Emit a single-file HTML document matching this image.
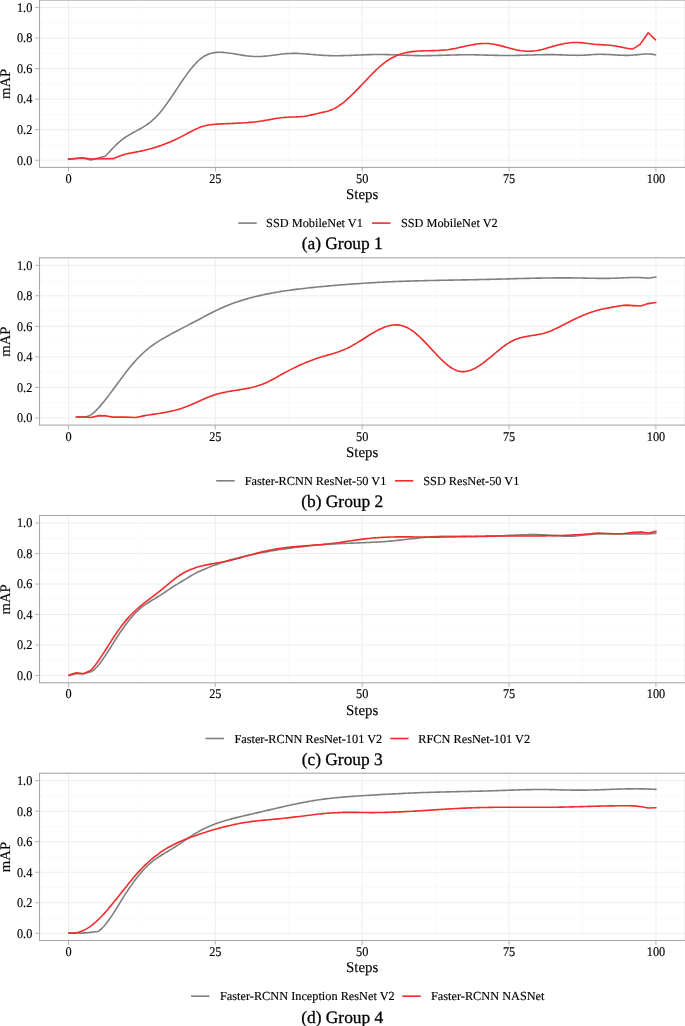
<!DOCTYPE html><html><head><meta charset="utf-8"><style>html,body{margin:0;padding:0;background:#fff;width:685px;height:1026px;overflow:hidden}svg{display:block;will-change:transform}text{font-family:"Liberation Serif",serif;text-rendering:geometricPrecision;fill:#000;stroke:#000;stroke-width:0.15px}</style></head><body>
<svg width="685" height="1026" viewBox="0 0 685 1026">
<line x1="39.5" x2="685.4" y1="144.94" y2="144.94" stroke="#f6f6f6" stroke-width="0.6"/>
<line x1="39.5" x2="685.4" y1="114.42" y2="114.42" stroke="#f6f6f6" stroke-width="0.6"/>
<line x1="39.5" x2="685.4" y1="83.90" y2="83.90" stroke="#f6f6f6" stroke-width="0.6"/>
<line x1="39.5" x2="685.4" y1="53.38" y2="53.38" stroke="#f6f6f6" stroke-width="0.6"/>
<line x1="39.5" x2="685.4" y1="22.86" y2="22.86" stroke="#f6f6f6" stroke-width="0.6"/>
<line x1="141.90" x2="141.90" y1="0.1" y2="167.4" stroke="#f6f6f6" stroke-width="0.6"/>
<line x1="288.77" x2="288.77" y1="0.1" y2="167.4" stroke="#f6f6f6" stroke-width="0.6"/>
<line x1="435.64" x2="435.64" y1="0.1" y2="167.4" stroke="#f6f6f6" stroke-width="0.6"/>
<line x1="582.51" x2="582.51" y1="0.1" y2="167.4" stroke="#f6f6f6" stroke-width="0.6"/>
<line x1="39.5" x2="685.4" y1="160.20" y2="160.20" stroke="#eeeeee" stroke-width="1"/>
<line x1="35.1" x2="39.5" y1="160.20" y2="160.20" stroke="#b3b3b3" stroke-width="1"/>
<text transform="translate(32.30,164.50) scale(1,1.08)" font-size="12.3" text-anchor="end">0.0</text>
<line x1="39.5" x2="685.4" y1="129.68" y2="129.68" stroke="#eeeeee" stroke-width="1"/>
<line x1="35.1" x2="39.5" y1="129.68" y2="129.68" stroke="#b3b3b3" stroke-width="1"/>
<text transform="translate(32.30,133.98) scale(1,1.08)" font-size="12.3" text-anchor="end">0.2</text>
<line x1="39.5" x2="685.4" y1="99.16" y2="99.16" stroke="#eeeeee" stroke-width="1"/>
<line x1="35.1" x2="39.5" y1="99.16" y2="99.16" stroke="#b3b3b3" stroke-width="1"/>
<text transform="translate(32.30,103.46) scale(1,1.08)" font-size="12.3" text-anchor="end">0.4</text>
<line x1="39.5" x2="685.4" y1="68.64" y2="68.64" stroke="#eeeeee" stroke-width="1"/>
<line x1="35.1" x2="39.5" y1="68.64" y2="68.64" stroke="#b3b3b3" stroke-width="1"/>
<text transform="translate(32.30,72.94) scale(1,1.08)" font-size="12.3" text-anchor="end">0.6</text>
<line x1="39.5" x2="685.4" y1="38.12" y2="38.12" stroke="#eeeeee" stroke-width="1"/>
<line x1="35.1" x2="39.5" y1="38.12" y2="38.12" stroke="#b3b3b3" stroke-width="1"/>
<text transform="translate(32.30,42.42) scale(1,1.08)" font-size="12.3" text-anchor="end">0.8</text>
<line x1="39.5" x2="685.4" y1="7.60" y2="7.60" stroke="#eeeeee" stroke-width="1"/>
<line x1="35.1" x2="39.5" y1="7.60" y2="7.60" stroke="#b3b3b3" stroke-width="1"/>
<text transform="translate(32.30,11.90) scale(1,1.08)" font-size="12.3" text-anchor="end">1.0</text>
<line x1="68.47" x2="68.47" y1="0.1" y2="167.4" stroke="#eeeeee" stroke-width="1"/>
<line x1="68.47" x2="68.47" y1="167.4" y2="171.70" stroke="#b3b3b3" stroke-width="1"/>
<text transform="translate(68.47,183.00) scale(1,1.08)" font-size="12.3" text-anchor="middle">0</text>
<line x1="215.34" x2="215.34" y1="0.1" y2="167.4" stroke="#eeeeee" stroke-width="1"/>
<line x1="215.34" x2="215.34" y1="167.4" y2="171.70" stroke="#b3b3b3" stroke-width="1"/>
<text transform="translate(215.34,183.00) scale(1,1.08)" font-size="12.3" text-anchor="middle">25</text>
<line x1="362.21" x2="362.21" y1="0.1" y2="167.4" stroke="#eeeeee" stroke-width="1"/>
<line x1="362.21" x2="362.21" y1="167.4" y2="171.70" stroke="#b3b3b3" stroke-width="1"/>
<text transform="translate(362.21,183.00) scale(1,1.08)" font-size="12.3" text-anchor="middle">50</text>
<line x1="509.08" x2="509.08" y1="0.1" y2="167.4" stroke="#eeeeee" stroke-width="1"/>
<line x1="509.08" x2="509.08" y1="167.4" y2="171.70" stroke="#b3b3b3" stroke-width="1"/>
<text transform="translate(509.08,183.00) scale(1,1.08)" font-size="12.3" text-anchor="middle">75</text>
<line x1="655.95" x2="655.95" y1="0.1" y2="167.4" stroke="#eeeeee" stroke-width="1"/>
<line x1="655.95" x2="655.95" y1="167.4" y2="171.70" stroke="#b3b3b3" stroke-width="1"/>
<text transform="translate(655.95,183.00) scale(1,1.08)" font-size="12.3" text-anchor="middle">100</text>
<polyline points="68.47,159.13 82.57,158.22 91.09,159.89 105.19,156.23 107.14,154.23 109.09,152.18 111.04,150.11 112.99,148.06 114.95,146.06 116.90,144.14 118.85,142.33 120.80,140.66 122.75,139.14 124.70,137.73 126.66,136.44 128.61,135.23 130.56,134.08 132.51,132.99 134.46,131.92 136.41,130.86 138.36,129.79 140.32,128.70 142.27,127.57 144.22,126.38 146.17,125.11 148.12,123.75 150.07,122.28 152.03,120.69 153.98,118.96 155.93,117.07 157.88,115.01 159.83,112.78 161.78,110.40 163.74,107.89 165.69,105.26 167.64,102.54 169.59,99.74 171.54,96.87 173.49,93.97 175.45,91.04 177.40,88.09 179.35,85.16 181.30,82.26 183.25,79.40 185.20,76.60 187.15,73.89 189.11,71.27 191.06,68.77 193.01,66.40 194.96,64.18 196.91,62.13 198.86,60.26 200.82,58.60 202.77,57.16 204.72,55.94 206.67,54.93 208.62,54.11 210.57,53.46 212.53,52.98 214.48,52.63 216.43,52.42 218.38,52.32 220.33,52.31 222.28,52.39 224.24,52.53 226.19,52.72 228.14,52.95 230.09,53.21 232.04,53.50 233.99,53.81 235.94,54.13 237.90,54.45 239.85,54.77 241.80,55.09 243.75,55.39 245.70,55.67 247.65,55.93 249.61,56.15 251.56,56.32 253.51,56.45 255.46,56.53 257.41,56.55 259.36,56.51 261.32,56.43 263.27,56.30 265.22,56.14 267.17,55.94 269.12,55.72 271.07,55.48 273.03,55.24 274.98,54.98 276.93,54.72 278.88,54.47 280.83,54.24 282.78,54.02 284.73,53.82 286.69,53.66 288.64,53.53 290.59,53.44 292.54,53.40 294.49,53.39 296.44,53.42 298.40,53.48 300.35,53.57 302.30,53.68 304.25,53.80 306.20,53.95 308.15,54.11 310.11,54.27 312.06,54.45 314.01,54.62 315.96,54.79 317.91,54.95 319.86,55.11 321.82,55.25 323.77,55.37 325.72,55.48 327.67,55.56 329.62,55.62 331.57,55.67 333.52,55.69 335.48,55.70 337.43,55.70 339.38,55.68 341.33,55.65 343.28,55.61 345.23,55.55 347.19,55.49 349.14,55.43 351.09,55.36 353.04,55.28 354.99,55.20 356.94,55.12 358.90,55.04 360.85,54.96 362.80,54.88 364.75,54.80 366.70,54.74 368.65,54.67 370.61,54.62 372.56,54.57 374.51,54.54 376.46,54.51 378.41,54.50 380.36,54.50 382.31,54.52 384.27,54.55 386.22,54.59 388.17,54.63 390.12,54.69 392.07,54.75 394.02,54.82 395.98,54.89 397.93,54.97 399.88,55.04 401.83,55.12 403.78,55.20 405.73,55.27 407.69,55.35 409.64,55.42 411.59,55.48 413.54,55.54 415.49,55.59 417.44,55.63 419.40,55.66 421.35,55.68 423.30,55.68 425.25,55.68 427.20,55.66 429.15,55.64 431.10,55.61 433.06,55.57 435.01,55.52 436.96,55.47 438.91,55.42 440.86,55.36 442.81,55.30 444.77,55.23 446.72,55.17 448.67,55.11 450.62,55.05 452.57,54.99 454.52,54.94 456.48,54.89 458.43,54.85 460.38,54.81 462.33,54.78 464.28,54.76 466.23,54.75 468.19,54.75 470.14,54.76 472.09,54.78 474.04,54.81 475.99,54.84 477.94,54.88 479.89,54.93 481.85,54.98 483.80,55.03 485.75,55.08 487.70,55.14 489.65,55.20 491.60,55.25 493.56,55.30 495.51,55.35 497.46,55.39 499.41,55.43 501.36,55.47 503.31,55.49 505.27,55.51 507.22,55.52 509.17,55.51 511.12,55.50 513.07,55.47 515.02,55.44 516.98,55.40 518.93,55.35 520.88,55.30 522.83,55.24 524.78,55.18 526.73,55.12 528.68,55.05 530.64,54.99 532.59,54.93 534.54,54.87 536.49,54.81 538.44,54.76 540.39,54.72 542.35,54.68 544.30,54.65 546.25,54.63 548.20,54.62 550.15,54.62 552.10,54.64 554.06,54.67 556.01,54.71 557.96,54.77 559.91,54.84 561.86,54.91 563.81,54.99 565.77,55.06 567.72,55.13 569.67,55.20 571.62,55.25 573.57,55.30 575.52,55.32 577.47,55.33 579.43,55.31 581.38,55.27 583.33,55.20 585.28,55.10 587.23,54.98 589.18,54.84 591.14,54.70 593.09,54.57 595.04,54.45 596.99,54.36 598.94,54.31 600.89,54.30 602.85,54.33 604.80,54.38 606.75,54.46 608.70,54.55 610.65,54.67 612.60,54.78 614.56,54.90 616.51,55.02 618.46,55.13 620.41,55.23 622.36,55.30 624.31,55.35 626.26,55.38 628.22,55.36 630.17,55.31 632.12,55.20 634.07,55.05 636.02,54.86 637.97,54.64 639.93,54.43 641.88,54.23 643.83,54.07 645.78,53.96 647.73,53.93 649.68,53.98 651.64,54.15 653.59,54.46 655.54,54.91" fill="none" stroke="#7f7f7f" stroke-width="1.6" stroke-linejoin="round" stroke-linecap="round"/>
<polyline points="68.47,159.13 82.80,157.76 90.27,158.98 113.47,158.67 115.42,157.73 117.38,156.89 119.33,156.13 121.28,155.46 123.24,154.86 125.19,154.33 127.14,153.84 129.10,153.40 131.05,152.99 133.00,152.60 134.96,152.23 136.91,151.87 138.86,151.50 140.82,151.11 142.77,150.70 144.72,150.26 146.68,149.80 148.63,149.30 150.58,148.77 152.54,148.22 154.49,147.63 156.44,147.02 158.40,146.38 160.35,145.70 162.30,145.00 164.26,144.27 166.21,143.51 168.16,142.73 170.12,141.91 172.07,141.06 174.02,140.19 175.98,139.28 177.93,138.35 179.88,137.39 181.84,136.40 183.79,135.38 185.74,134.33 187.69,133.28 189.65,132.23 191.60,131.21 193.55,130.21 195.51,129.27 197.46,128.38 199.41,127.58 201.37,126.86 203.32,126.24 205.27,125.73 207.23,125.30 209.18,124.96 211.13,124.67 213.09,124.45 215.04,124.28 216.99,124.14 218.95,124.02 220.90,123.92 222.85,123.83 224.81,123.75 226.76,123.66 228.71,123.58 230.67,123.50 232.62,123.42 234.57,123.34 236.53,123.25 238.48,123.15 240.43,123.05 242.39,122.94 244.34,122.82 246.29,122.68 248.25,122.53 250.20,122.37 252.15,122.19 254.11,121.99 256.06,121.77 258.01,121.52 259.97,121.26 261.92,120.97 263.87,120.65 265.83,120.32 267.78,119.97 269.73,119.61 271.69,119.26 273.64,118.91 275.59,118.57 277.54,118.26 279.50,117.97 281.45,117.72 283.40,117.50 285.36,117.33 287.31,117.21 289.26,117.12 291.22,117.05 293.17,116.99 295.12,116.93 297.08,116.86 299.03,116.76 300.98,116.63 302.94,116.44 304.89,116.20 306.84,115.90 308.80,115.53 310.75,115.11 312.70,114.65 314.66,114.18 316.61,113.70 318.56,113.22 320.52,112.77 322.47,112.35 324.42,111.95 326.38,111.51 328.33,111.00 330.28,110.35 332.24,109.55 334.19,108.61 336.14,107.53 338.10,106.32 340.05,105.00 342.00,103.56 343.96,102.02 345.91,100.39 347.86,98.68 349.82,96.89 351.77,95.04 353.72,93.12 355.68,91.16 357.63,89.16 359.58,87.13 361.54,85.07 363.49,83.00 365.44,80.93 367.39,78.86 369.35,76.82 371.30,74.80 373.25,72.82 375.21,70.89 377.16,69.02 379.11,67.22 381.07,65.51 383.02,63.89 384.97,62.37 386.93,60.96 388.88,59.68 390.83,58.51 392.79,57.44 394.74,56.48 396.69,55.62 398.65,54.86 400.60,54.17 402.55,53.57 404.51,53.05 406.46,52.60 408.41,52.21 410.37,51.88 412.32,51.61 414.27,51.38 416.23,51.20 418.18,51.06 420.13,50.95 422.09,50.86 424.04,50.80 425.99,50.76 427.95,50.72 429.90,50.69 431.85,50.66 433.81,50.62 435.76,50.57 437.71,50.51 439.67,50.42 441.62,50.31 443.57,50.16 445.53,49.98 447.48,49.75 449.43,49.47 451.39,49.15 453.34,48.80 455.29,48.42 457.24,48.01 459.20,47.58 461.15,47.15 463.10,46.71 465.06,46.27 467.01,45.84 468.96,45.43 470.92,45.04 472.87,44.68 474.82,44.35 476.78,44.06 478.73,43.82 480.68,43.63 482.64,43.50 484.59,43.44 486.54,43.45 488.50,43.54 490.45,43.71 492.40,43.97 494.36,44.29 496.31,44.68 498.26,45.12 500.22,45.60 502.17,46.11 504.12,46.64 506.08,47.19 508.03,47.73 509.98,48.27 511.94,48.78 513.89,49.27 515.84,49.72 517.80,50.12 519.75,50.47 521.70,50.75 523.66,50.96 525.61,51.11 527.56,51.19 529.52,51.20 531.47,51.14 533.42,51.00 535.38,50.79 537.33,50.49 539.28,50.12 541.24,49.68 543.19,49.18 545.14,48.65 547.09,48.09 549.05,47.52 551.00,46.95 552.95,46.39 554.91,45.85 556.86,45.32 558.81,44.83 560.77,44.36 562.72,43.94 564.67,43.55 566.63,43.22 568.58,42.94 570.53,42.72 572.49,42.56 574.44,42.47 576.39,42.46 578.35,42.53 580.30,42.66 582.25,42.84 584.21,43.06 586.16,43.31 588.11,43.56 590.07,43.82 592.02,44.05 593.97,44.26 595.93,44.43 597.88,44.56 599.83,44.66 601.79,44.75 603.74,44.84 605.69,44.94 607.65,45.06 609.60,45.22 611.55,45.42 613.51,45.68 615.46,45.99 617.41,46.35 619.37,46.74 621.32,47.14 623.27,47.54 625.23,47.93 627.18,48.29 629.13,48.59 631.09,48.83 633.04,48.95 640.03,44.38 648.20,32.78 655.54,39.80" fill="none" stroke="#f22b2b" stroke-width="1.6" stroke-linejoin="round" stroke-linecap="round"/>
<rect x="39.5" y="0.1" width="645.9" height="167.3" fill="none" stroke="#a8a8a8" stroke-width="1.1"/>
<text transform="translate(362.10,199.30) scale(1,1.0)" font-size="14.9" text-anchor="middle">Steps</text>
<text transform="translate(9.75,83.95) rotate(-90) scale(1,1.0)" font-size="14.7" text-anchor="middle">mAP</text>
<line x1="238.3" x2="256.7" y1="223.1" y2="223.1" stroke="#7f7f7f" stroke-width="1.6"/>
<text transform="translate(266.10,227.20) scale(1,1.0)" font-size="12.3">SSD MobileNet V1</text>
<line x1="372.1" x2="390.5" y1="223.1" y2="223.1" stroke="#f22b2b" stroke-width="1.6"/>
<text transform="translate(400.90,227.20) scale(1,1.0)" font-size="12.3">SSD MobileNet V2</text>
<text transform="translate(342.20,249.40) scale(1,1.0)" font-size="17.4" text-anchor="middle" style="stroke-width:0.3px">(a) Group 1</text>
<line x1="39.5" x2="685.4" y1="402.64" y2="402.64" stroke="#f6f6f6" stroke-width="0.6"/>
<line x1="39.5" x2="685.4" y1="372.12" y2="372.12" stroke="#f6f6f6" stroke-width="0.6"/>
<line x1="39.5" x2="685.4" y1="341.60" y2="341.60" stroke="#f6f6f6" stroke-width="0.6"/>
<line x1="39.5" x2="685.4" y1="311.08" y2="311.08" stroke="#f6f6f6" stroke-width="0.6"/>
<line x1="39.5" x2="685.4" y1="280.56" y2="280.56" stroke="#f6f6f6" stroke-width="0.6"/>
<line x1="141.90" x2="141.90" y1="257.8" y2="425.1" stroke="#f6f6f6" stroke-width="0.6"/>
<line x1="288.77" x2="288.77" y1="257.8" y2="425.1" stroke="#f6f6f6" stroke-width="0.6"/>
<line x1="435.64" x2="435.64" y1="257.8" y2="425.1" stroke="#f6f6f6" stroke-width="0.6"/>
<line x1="582.51" x2="582.51" y1="257.8" y2="425.1" stroke="#f6f6f6" stroke-width="0.6"/>
<line x1="39.5" x2="685.4" y1="417.90" y2="417.90" stroke="#eeeeee" stroke-width="1"/>
<line x1="35.1" x2="39.5" y1="417.90" y2="417.90" stroke="#b3b3b3" stroke-width="1"/>
<text transform="translate(32.30,422.20) scale(1,1.08)" font-size="12.3" text-anchor="end">0.0</text>
<line x1="39.5" x2="685.4" y1="387.38" y2="387.38" stroke="#eeeeee" stroke-width="1"/>
<line x1="35.1" x2="39.5" y1="387.38" y2="387.38" stroke="#b3b3b3" stroke-width="1"/>
<text transform="translate(32.30,391.68) scale(1,1.08)" font-size="12.3" text-anchor="end">0.2</text>
<line x1="39.5" x2="685.4" y1="356.86" y2="356.86" stroke="#eeeeee" stroke-width="1"/>
<line x1="35.1" x2="39.5" y1="356.86" y2="356.86" stroke="#b3b3b3" stroke-width="1"/>
<text transform="translate(32.30,361.16) scale(1,1.08)" font-size="12.3" text-anchor="end">0.4</text>
<line x1="39.5" x2="685.4" y1="326.34" y2="326.34" stroke="#eeeeee" stroke-width="1"/>
<line x1="35.1" x2="39.5" y1="326.34" y2="326.34" stroke="#b3b3b3" stroke-width="1"/>
<text transform="translate(32.30,330.64) scale(1,1.08)" font-size="12.3" text-anchor="end">0.6</text>
<line x1="39.5" x2="685.4" y1="295.82" y2="295.82" stroke="#eeeeee" stroke-width="1"/>
<line x1="35.1" x2="39.5" y1="295.82" y2="295.82" stroke="#b3b3b3" stroke-width="1"/>
<text transform="translate(32.30,300.12) scale(1,1.08)" font-size="12.3" text-anchor="end">0.8</text>
<line x1="39.5" x2="685.4" y1="265.30" y2="265.30" stroke="#eeeeee" stroke-width="1"/>
<line x1="35.1" x2="39.5" y1="265.30" y2="265.30" stroke="#b3b3b3" stroke-width="1"/>
<text transform="translate(32.30,269.60) scale(1,1.08)" font-size="12.3" text-anchor="end">1.0</text>
<line x1="68.47" x2="68.47" y1="257.8" y2="425.1" stroke="#eeeeee" stroke-width="1"/>
<line x1="68.47" x2="68.47" y1="425.1" y2="429.40" stroke="#b3b3b3" stroke-width="1"/>
<text transform="translate(68.47,440.70) scale(1,1.08)" font-size="12.3" text-anchor="middle">0</text>
<line x1="215.34" x2="215.34" y1="257.8" y2="425.1" stroke="#eeeeee" stroke-width="1"/>
<line x1="215.34" x2="215.34" y1="425.1" y2="429.40" stroke="#b3b3b3" stroke-width="1"/>
<text transform="translate(215.34,440.70) scale(1,1.08)" font-size="12.3" text-anchor="middle">25</text>
<line x1="362.21" x2="362.21" y1="257.8" y2="425.1" stroke="#eeeeee" stroke-width="1"/>
<line x1="362.21" x2="362.21" y1="425.1" y2="429.40" stroke="#b3b3b3" stroke-width="1"/>
<text transform="translate(362.21,440.70) scale(1,1.08)" font-size="12.3" text-anchor="middle">50</text>
<line x1="509.08" x2="509.08" y1="257.8" y2="425.1" stroke="#eeeeee" stroke-width="1"/>
<line x1="509.08" x2="509.08" y1="425.1" y2="429.40" stroke="#b3b3b3" stroke-width="1"/>
<text transform="translate(509.08,440.70) scale(1,1.08)" font-size="12.3" text-anchor="middle">75</text>
<line x1="655.95" x2="655.95" y1="257.8" y2="425.1" stroke="#eeeeee" stroke-width="1"/>
<line x1="655.95" x2="655.95" y1="425.1" y2="429.40" stroke="#b3b3b3" stroke-width="1"/>
<text transform="translate(655.95,440.70) scale(1,1.08)" font-size="12.3" text-anchor="middle">100</text>
<polyline points="76.28,416.98 84.45,416.83 86.41,416.69 88.36,416.10 90.32,415.12 92.28,413.80 94.24,412.19 96.19,410.34 98.15,408.30 100.11,406.13 102.06,403.84 104.02,401.45 105.98,398.98 107.94,396.45 109.89,393.87 111.85,391.25 113.81,388.60 115.77,385.94 117.72,383.27 119.68,380.61 121.64,377.97 123.59,375.36 125.55,372.79 127.51,370.27 129.47,367.81 131.42,365.44 133.38,363.14 135.34,360.94 137.30,358.83 139.25,356.80 141.21,354.86 143.17,353.00 145.12,351.23 147.08,349.55 149.04,347.95 151.00,346.43 152.95,344.99 154.91,343.63 156.87,342.34 158.82,341.10 160.78,339.91 162.74,338.75 164.70,337.63 166.65,336.52 168.61,335.43 170.57,334.36 172.53,333.30 174.48,332.25 176.44,331.21 178.40,330.18 180.35,329.16 182.31,328.14 184.27,327.12 186.23,326.11 188.18,325.10 190.14,324.08 192.10,323.06 194.06,322.03 196.01,321.00 197.97,319.96 199.93,318.93 201.88,317.89 203.84,316.85 205.80,315.82 207.76,314.80 209.71,313.78 211.67,312.78 213.63,311.80 215.58,310.83 217.54,309.89 219.50,308.96 221.46,308.07 223.41,307.20 225.37,306.36 227.33,305.55 229.29,304.77 231.24,304.01 233.20,303.29 235.16,302.59 237.11,301.91 239.07,301.26 241.03,300.63 242.99,300.03 244.94,299.44 246.90,298.88 248.86,298.33 250.82,297.80 252.77,297.29 254.73,296.80 256.69,296.32 258.64,295.85 260.60,295.40 262.56,294.97 264.52,294.55 266.47,294.14 268.43,293.75 270.39,293.37 272.35,293.00 274.30,292.65 276.26,292.30 278.22,291.97 280.17,291.65 282.13,291.33 284.09,291.03 286.05,290.74 288.00,290.45 289.96,290.18 291.92,289.91 293.87,289.66 295.83,289.40 297.79,289.16 299.75,288.92 301.70,288.69 303.66,288.47 305.62,288.25 307.58,288.03 309.53,287.82 311.49,287.61 313.45,287.41 315.40,287.21 317.36,287.02 319.32,286.82 321.28,286.63 323.23,286.45 325.19,286.26 327.15,286.08 329.11,285.90 331.06,285.73 333.02,285.56 334.98,285.39 336.93,285.22 338.89,285.05 340.85,284.89 342.81,284.74 344.76,284.58 346.72,284.43 348.68,284.28 350.64,284.13 352.59,283.99 354.55,283.85 356.51,283.71 358.46,283.58 360.42,283.45 362.38,283.32 364.34,283.19 366.29,283.07 368.25,282.95 370.21,282.83 372.16,282.72 374.12,282.61 376.08,282.50 378.04,282.39 379.99,282.29 381.95,282.19 383.91,282.09 385.87,282.00 387.82,281.91 389.78,281.82 391.74,281.74 393.69,281.65 395.65,281.57 397.61,281.50 399.57,281.42 401.52,281.35 403.48,281.28 405.44,281.22 407.40,281.15 409.35,281.09 411.31,281.03 413.27,280.97 415.22,280.92 417.18,280.86 419.14,280.81 421.10,280.76 423.05,280.71 425.01,280.66 426.97,280.62 428.92,280.57 430.88,280.53 432.84,280.48 434.80,280.44 436.75,280.40 438.71,280.36 440.67,280.32 442.63,280.29 444.58,280.25 446.54,280.21 448.50,280.17 450.45,280.14 452.41,280.10 454.37,280.07 456.33,280.03 458.28,279.99 460.24,279.96 462.20,279.92 464.16,279.88 466.11,279.85 468.07,279.81 470.03,279.77 471.98,279.73 473.94,279.69 475.90,279.65 477.86,279.61 479.81,279.57 481.77,279.53 483.73,279.48 485.69,279.44 487.64,279.39 489.60,279.34 491.56,279.30 493.51,279.25 495.47,279.19 497.43,279.14 499.39,279.09 501.34,279.04 503.30,278.99 505.26,278.93 507.21,278.88 509.17,278.83 511.13,278.78 513.09,278.72 515.04,278.67 517.00,278.62 518.96,278.57 520.92,278.52 522.87,278.47 524.83,278.42 526.79,278.38 528.74,278.33 530.70,278.29 532.66,278.25 534.62,278.21 536.57,278.17 538.53,278.13 540.49,278.10 542.45,278.06 544.40,278.03 546.36,278.01 548.32,277.98 550.27,277.96 552.23,277.94 554.19,277.92 556.15,277.91 558.10,277.90 560.06,277.89 562.02,277.89 563.97,277.89 565.93,277.89 567.89,277.90 569.85,277.91 571.80,277.92 573.76,277.94 575.72,277.96 577.68,277.99 579.63,278.02 581.59,278.06 583.55,278.10 585.50,278.14 587.46,278.18 589.42,278.22 591.38,278.25 593.33,278.29 595.29,278.32 597.25,278.34 599.21,278.36 601.16,278.38 603.12,278.38 605.08,278.38 607.03,278.36 608.99,278.34 610.95,278.30 612.91,278.25 614.86,278.19 616.82,278.11 618.78,278.03 620.74,277.94 622.69,277.85 624.65,277.76 626.61,277.68 628.56,277.60 630.52,277.54 632.48,277.50 634.44,277.48 636.39,277.49 638.35,277.53 640.31,277.59 642.26,277.70 644.22,277.84 646.18,278.03 648.14,278.27 655.95,277.05" fill="none" stroke="#7f7f7f" stroke-width="1.6" stroke-linejoin="round" stroke-linecap="round"/>
<polyline points="76.28,416.98 84.45,416.98 90.97,417.44 99.14,415.61 106.48,415.92 113.00,417.14 125.28,417.14 135.85,417.44 144.84,415.61 146.80,415.29 148.76,414.99 150.71,414.69 152.67,414.39 154.63,414.10 156.58,413.80 158.54,413.50 160.50,413.19 162.45,412.87 164.41,412.53 166.37,412.18 168.32,411.80 170.28,411.39 172.24,410.96 174.19,410.50 176.15,410.00 178.11,409.46 180.07,408.89 182.02,408.26 183.98,407.59 185.94,406.87 187.89,406.10 189.85,405.29 191.81,404.45 193.76,403.59 195.72,402.70 197.68,401.81 199.63,400.92 201.59,400.04 203.55,399.17 205.50,398.32 207.46,397.49 209.42,396.71 211.37,395.96 213.33,395.27 215.29,394.63 217.24,394.06 219.20,393.53 221.16,393.04 223.12,392.60 225.07,392.19 227.03,391.81 228.99,391.46 230.94,391.12 232.90,390.80 234.86,390.49 236.81,390.18 238.77,389.87 240.73,389.56 242.68,389.23 244.64,388.89 246.60,388.52 248.55,388.13 250.51,387.71 252.47,387.24 254.42,386.74 256.38,386.19 258.34,385.59 260.29,384.94 262.25,384.24 264.21,383.48 266.16,382.65 268.12,381.77 270.08,380.82 272.04,379.80 273.99,378.73 275.95,377.63 277.91,376.51 279.86,375.39 281.82,374.29 283.78,373.21 285.73,372.15 287.69,371.11 289.65,370.09 291.60,369.10 293.56,368.12 295.52,367.17 297.47,366.25 299.43,365.34 301.39,364.46 303.34,363.61 305.30,362.78 307.26,361.97 309.21,361.20 311.17,360.45 313.13,359.72 315.09,359.03 317.04,358.36 319.00,357.72 320.96,357.11 322.91,356.52 324.87,355.95 326.83,355.38 328.78,354.81 330.74,354.24 332.70,353.65 334.65,353.05 336.61,352.42 338.57,351.76 340.52,351.05 342.48,350.30 344.44,349.50 346.39,348.63 348.35,347.70 350.31,346.70 352.26,345.64 354.22,344.52 356.18,343.36 358.14,342.17 360.09,340.95 362.05,339.71 364.01,338.47 365.96,337.22 367.92,335.99 369.88,334.78 371.83,333.59 373.79,332.45 375.75,331.34 377.70,330.30 379.66,329.31 381.62,328.40 383.57,327.58 385.53,326.84 387.49,326.21 389.44,325.68 391.40,325.28 393.36,325.01 395.31,324.88 397.27,324.90 399.23,325.08 401.19,325.43 403.14,325.96 405.10,326.68 407.06,327.56 409.01,328.62 410.97,329.83 412.93,331.19 414.88,332.68 416.84,334.30 418.80,336.04 420.75,337.88 422.71,339.82 424.67,341.82 426.62,343.88 428.58,345.98 430.54,348.09 432.49,350.21 434.45,352.32 436.41,354.41 438.36,356.46 440.32,358.46 442.28,360.38 444.24,362.22 446.19,363.95 448.15,365.55 450.11,366.99 452.06,368.27 454.02,369.36 455.98,370.24 457.93,370.91 459.89,371.37 461.85,371.61 463.80,371.64 465.76,371.46 467.72,371.09 469.67,370.54 471.63,369.82 473.59,368.95 475.54,367.94 477.50,366.80 479.46,365.56 481.41,364.22 483.37,362.79 485.33,361.29 487.29,359.74 489.24,358.15 491.20,356.52 493.16,354.89 495.11,353.25 497.07,351.62 499.03,350.02 500.98,348.47 502.94,346.96 504.90,345.52 506.85,344.17 508.81,342.91 510.77,341.76 512.72,340.74 514.68,339.84 516.64,339.06 518.59,338.39 520.55,337.81 522.51,337.31 524.46,336.87 526.42,336.49 528.38,336.14 530.34,335.82 532.29,335.52 534.25,335.21 536.21,334.89 538.16,334.54 540.12,334.15 542.08,333.71 544.03,333.20 545.99,332.61 547.95,331.94 549.90,331.20 551.86,330.40 553.82,329.54 555.77,328.63 557.73,327.68 559.69,326.71 561.64,325.71 563.60,324.70 565.56,323.69 567.51,322.67 569.47,321.67 571.43,320.69 573.39,319.74 575.34,318.80 577.30,317.89 579.26,317.01 581.21,316.15 583.17,315.33 585.13,314.54 587.08,313.78 589.04,313.05 591.00,312.36 592.95,311.71 594.91,311.10 596.87,310.54 598.82,310.01 600.78,309.52 602.74,309.07 604.69,308.65 606.65,308.26 608.61,307.88 610.56,307.52 612.52,307.16 614.48,306.81 616.44,306.46 618.39,306.11 620.35,305.74 626.11,305.13 633.45,305.59 640.79,306.04 648.14,303.60 655.95,302.53" fill="none" stroke="#f22b2b" stroke-width="1.6" stroke-linejoin="round" stroke-linecap="round"/>
<rect x="39.5" y="257.8" width="645.9" height="167.3" fill="none" stroke="#a8a8a8" stroke-width="1.1"/>
<text transform="translate(362.10,457.00) scale(1,1.0)" font-size="14.9" text-anchor="middle">Steps</text>
<text transform="translate(9.75,341.65) rotate(-90) scale(1,1.0)" font-size="14.7" text-anchor="middle">mAP</text>
<line x1="216.2" x2="234.6" y1="480.8" y2="480.8" stroke="#7f7f7f" stroke-width="1.6"/>
<text transform="translate(244.70,484.90) scale(1,1.0)" font-size="12.3">Faster-RCNN ResNet-50 V1</text>
<line x1="394.9" x2="413.3" y1="480.8" y2="480.8" stroke="#f22b2b" stroke-width="1.6"/>
<text transform="translate(423.20,484.90) scale(1,1.0)" font-size="12.3">SSD ResNet-50 V1</text>
<text transform="translate(342.20,507.10) scale(1,1.0)" font-size="17.4" text-anchor="middle" style="stroke-width:0.3px">(b) Group 2</text>
<line x1="39.5" x2="685.4" y1="660.34" y2="660.34" stroke="#f6f6f6" stroke-width="0.6"/>
<line x1="39.5" x2="685.4" y1="629.82" y2="629.82" stroke="#f6f6f6" stroke-width="0.6"/>
<line x1="39.5" x2="685.4" y1="599.30" y2="599.30" stroke="#f6f6f6" stroke-width="0.6"/>
<line x1="39.5" x2="685.4" y1="568.78" y2="568.78" stroke="#f6f6f6" stroke-width="0.6"/>
<line x1="39.5" x2="685.4" y1="538.26" y2="538.26" stroke="#f6f6f6" stroke-width="0.6"/>
<line x1="141.90" x2="141.90" y1="515.5" y2="682.8" stroke="#f6f6f6" stroke-width="0.6"/>
<line x1="288.77" x2="288.77" y1="515.5" y2="682.8" stroke="#f6f6f6" stroke-width="0.6"/>
<line x1="435.64" x2="435.64" y1="515.5" y2="682.8" stroke="#f6f6f6" stroke-width="0.6"/>
<line x1="582.51" x2="582.51" y1="515.5" y2="682.8" stroke="#f6f6f6" stroke-width="0.6"/>
<line x1="39.5" x2="685.4" y1="675.60" y2="675.60" stroke="#eeeeee" stroke-width="1"/>
<line x1="35.1" x2="39.5" y1="675.60" y2="675.60" stroke="#b3b3b3" stroke-width="1"/>
<text transform="translate(32.30,679.90) scale(1,1.08)" font-size="12.3" text-anchor="end">0.0</text>
<line x1="39.5" x2="685.4" y1="645.08" y2="645.08" stroke="#eeeeee" stroke-width="1"/>
<line x1="35.1" x2="39.5" y1="645.08" y2="645.08" stroke="#b3b3b3" stroke-width="1"/>
<text transform="translate(32.30,649.38) scale(1,1.08)" font-size="12.3" text-anchor="end">0.2</text>
<line x1="39.5" x2="685.4" y1="614.56" y2="614.56" stroke="#eeeeee" stroke-width="1"/>
<line x1="35.1" x2="39.5" y1="614.56" y2="614.56" stroke="#b3b3b3" stroke-width="1"/>
<text transform="translate(32.30,618.86) scale(1,1.08)" font-size="12.3" text-anchor="end">0.4</text>
<line x1="39.5" x2="685.4" y1="584.04" y2="584.04" stroke="#eeeeee" stroke-width="1"/>
<line x1="35.1" x2="39.5" y1="584.04" y2="584.04" stroke="#b3b3b3" stroke-width="1"/>
<text transform="translate(32.30,588.34) scale(1,1.08)" font-size="12.3" text-anchor="end">0.6</text>
<line x1="39.5" x2="685.4" y1="553.52" y2="553.52" stroke="#eeeeee" stroke-width="1"/>
<line x1="35.1" x2="39.5" y1="553.52" y2="553.52" stroke="#b3b3b3" stroke-width="1"/>
<text transform="translate(32.30,557.82) scale(1,1.08)" font-size="12.3" text-anchor="end">0.8</text>
<line x1="39.5" x2="685.4" y1="523.00" y2="523.00" stroke="#eeeeee" stroke-width="1"/>
<line x1="35.1" x2="39.5" y1="523.00" y2="523.00" stroke="#b3b3b3" stroke-width="1"/>
<text transform="translate(32.30,527.30) scale(1,1.08)" font-size="12.3" text-anchor="end">1.0</text>
<line x1="68.47" x2="68.47" y1="515.5" y2="682.8" stroke="#eeeeee" stroke-width="1"/>
<line x1="68.47" x2="68.47" y1="682.8" y2="687.10" stroke="#b3b3b3" stroke-width="1"/>
<text transform="translate(68.47,698.40) scale(1,1.08)" font-size="12.3" text-anchor="middle">0</text>
<line x1="215.34" x2="215.34" y1="515.5" y2="682.8" stroke="#eeeeee" stroke-width="1"/>
<line x1="215.34" x2="215.34" y1="682.8" y2="687.10" stroke="#b3b3b3" stroke-width="1"/>
<text transform="translate(215.34,698.40) scale(1,1.08)" font-size="12.3" text-anchor="middle">25</text>
<line x1="362.21" x2="362.21" y1="515.5" y2="682.8" stroke="#eeeeee" stroke-width="1"/>
<line x1="362.21" x2="362.21" y1="682.8" y2="687.10" stroke="#b3b3b3" stroke-width="1"/>
<text transform="translate(362.21,698.40) scale(1,1.08)" font-size="12.3" text-anchor="middle">50</text>
<line x1="509.08" x2="509.08" y1="515.5" y2="682.8" stroke="#eeeeee" stroke-width="1"/>
<line x1="509.08" x2="509.08" y1="682.8" y2="687.10" stroke="#b3b3b3" stroke-width="1"/>
<text transform="translate(509.08,698.40) scale(1,1.08)" font-size="12.3" text-anchor="middle">75</text>
<line x1="655.95" x2="655.95" y1="515.5" y2="682.8" stroke="#eeeeee" stroke-width="1"/>
<line x1="655.95" x2="655.95" y1="682.8" y2="687.10" stroke="#b3b3b3" stroke-width="1"/>
<text transform="translate(655.95,698.40) scale(1,1.08)" font-size="12.3" text-anchor="middle">100</text>
<polyline points="68.94,675.60 76.28,673.46 83.63,673.77 90.97,671.78 92.92,670.61 94.88,669.02 96.83,667.06 98.79,664.80 100.74,662.27 102.70,659.53 104.65,656.64 106.60,653.64 108.56,650.57 110.51,647.47 112.47,644.36 114.42,641.27 116.38,638.23 118.33,635.23 120.28,632.30 122.24,629.45 124.19,626.68 126.15,624.00 128.10,621.43 130.06,618.98 132.01,616.65 133.96,614.46 135.92,612.42 137.87,610.53 139.83,608.79 141.78,607.18 143.74,605.69 145.69,604.30 147.64,602.99 149.60,601.74 151.55,600.54 153.51,599.36 155.46,598.20 157.42,597.02 159.37,595.83 161.32,594.59 163.28,593.30 165.23,591.97 167.19,590.64 169.14,589.31 171.09,588.02 173.05,586.77 175.00,585.55 176.96,584.36 178.91,583.17 180.87,581.99 182.82,580.79 184.77,579.59 186.73,578.39 188.68,577.21 190.64,576.05 192.59,574.93 194.55,573.84 196.50,572.81 198.45,571.84 200.41,570.92 202.36,570.05 204.32,569.22 206.27,568.41 208.23,567.62 210.18,566.85 212.13,566.09 214.09,565.35 216.04,564.63 218.00,563.92 219.95,563.24 221.91,562.57 223.86,561.92 225.81,561.30 227.77,560.69 229.72,560.11 231.68,559.54 233.63,558.99 235.59,558.45 237.54,557.93 239.49,557.43 241.45,556.95 243.40,556.48 245.36,556.02 247.31,555.57 249.27,555.14 251.22,554.73 253.17,554.32 255.13,553.92 257.08,553.54 259.04,553.16 260.99,552.79 262.94,552.44 264.90,552.09 266.85,551.74 268.81,551.41 270.76,551.08 272.72,550.75 274.67,550.43 276.62,550.12 278.58,549.81 280.53,549.51 282.49,549.22 284.44,548.93 286.40,548.65 288.35,548.37 290.30,548.10 292.26,547.84 294.21,547.58 296.17,547.33 298.12,547.09 300.08,546.85 302.03,546.62 303.98,546.40 305.94,546.18 307.89,545.97 309.85,545.77 311.80,545.57 313.76,545.39 315.71,545.21 317.66,545.03 319.62,544.87 321.57,544.71 323.53,544.56 325.48,544.42 327.44,544.29 329.39,544.16 331.34,544.04 333.30,543.93 335.25,543.83 337.21,543.73 339.16,543.64 341.12,543.55 343.07,543.46 345.02,543.38 346.98,543.30 348.93,543.23 350.89,543.15 352.84,543.08 354.80,543.01 356.75,542.94 358.70,542.86 360.66,542.79 362.61,542.71 364.57,542.64 366.52,542.55 368.47,542.47 370.43,542.38 372.38,542.29 374.34,542.19 376.29,542.08 378.25,541.97 380.20,541.85 382.15,541.72 384.11,541.59 386.06,541.44 388.02,541.29 389.97,541.13 391.93,540.95 393.88,540.77 395.83,540.57 397.79,540.37 399.74,540.16 401.70,539.94 403.65,539.72 405.61,539.50 407.56,539.27 409.51,539.05 411.47,538.82 413.42,538.60 415.38,538.38 417.33,538.16 419.29,537.95 421.24,537.75 423.19,537.56 425.15,537.37 427.10,537.20 429.06,537.04 431.01,536.89 432.97,536.75 434.92,536.64 436.87,536.53 438.83,536.45 440.78,536.38 442.74,536.33 444.69,536.28 446.65,536.25 448.60,536.24 450.55,536.23 452.51,536.23 454.46,536.23 456.42,536.25 458.37,536.26 460.32,536.29 462.28,536.31 464.23,536.34 466.19,536.36 468.14,536.39 470.10,536.41 472.05,536.43 474.00,536.45 475.96,536.46 477.91,536.47 479.87,536.46 481.82,536.45 483.78,536.43 485.73,536.40 487.68,536.35 489.64,536.30 491.59,536.24 493.55,536.17 495.50,536.09 497.46,536.00 499.41,535.91 501.36,535.82 503.32,535.72 505.27,535.62 507.23,535.52 509.18,535.42 511.14,535.32 513.09,535.22 515.04,535.13 517.00,535.04 518.95,534.96 520.91,534.88 522.86,534.81 524.82,534.75 526.77,534.70 528.72,534.66 530.68,534.63 532.63,534.61 534.59,534.61 536.54,534.63 538.50,534.66 540.45,534.70 542.40,534.77 544.36,534.85 546.31,534.96 548.27,535.08 550.22,535.21 552.17,535.35 554.13,535.50 556.08,535.64 558.04,535.78 559.99,535.91 561.95,536.02 563.90,536.11 565.85,536.18 567.81,536.22 569.76,536.22 571.72,536.19 573.67,536.12 575.63,535.99 577.58,535.82 590.03,534.44 597.55,533.68 613.83,533.99 630.16,533.68 648.14,533.99 655.95,533.22" fill="none" stroke="#7f7f7f" stroke-width="1.6" stroke-linejoin="round" stroke-linecap="round"/>
<polyline points="68.94,675.13 76.28,672.87 83.63,673.76 90.97,670.24 92.93,668.03 94.88,665.61 96.84,663.01 98.80,660.26 100.76,657.38 102.71,654.41 104.67,651.36 106.63,648.27 108.58,645.16 110.54,642.07 112.50,639.01 114.46,636.02 116.41,633.12 118.37,630.31 120.33,627.60 122.28,625.00 124.24,622.50 126.20,620.12 128.16,617.86 130.11,615.73 132.07,613.72 134.03,611.80 135.98,609.98 137.94,608.23 139.90,606.55 141.86,604.92 143.81,603.34 145.77,601.79 147.73,600.28 149.68,598.78 151.64,597.30 153.60,595.82 155.56,594.34 157.51,592.84 159.47,591.32 161.43,589.76 163.38,588.17 165.34,586.56 167.30,584.93 169.26,583.31 171.21,581.71 173.17,580.15 175.13,578.62 177.08,577.16 179.04,575.78 181.00,574.48 182.95,573.28 184.91,572.18 186.87,571.18 188.83,570.26 190.78,569.42 192.74,568.66 194.70,567.96 196.65,567.33 198.61,566.75 200.57,566.22 202.53,565.74 204.48,565.30 206.44,564.89 208.40,564.51 210.35,564.15 212.31,563.80 214.27,563.46 216.23,563.13 218.18,562.79 220.14,562.44 222.10,562.08 224.05,561.69 226.01,561.29 227.97,560.86 229.93,560.40 231.88,559.94 233.84,559.45 235.80,558.95 237.75,558.44 239.71,557.92 241.67,557.39 243.63,556.85 245.58,556.31 247.54,555.77 249.50,555.23 251.45,554.69 253.41,554.16 255.37,553.63 257.33,553.12 259.28,552.61 261.24,552.12 263.20,551.64 265.15,551.18 267.11,550.74 269.07,550.32 271.03,549.93 272.98,549.56 274.94,549.21 276.90,548.88 278.85,548.58 280.81,548.29 282.77,548.03 284.72,547.78 286.68,547.54 288.64,547.32 290.60,547.11 292.55,546.91 294.51,546.73 296.47,546.55 298.42,546.38 300.38,546.22 302.34,546.06 304.30,545.91 306.25,545.76 308.21,545.61 310.17,545.46 312.12,545.32 314.08,545.16 316.04,545.01 318.00,544.85 319.95,544.69 321.91,544.51 323.87,544.33 325.82,544.14 327.78,543.94 329.74,543.72 331.70,543.50 333.65,543.25 335.61,543.00 337.57,542.73 339.52,542.46 341.48,542.18 343.44,541.89 345.40,541.60 347.35,541.30 349.31,541.01 351.27,540.71 353.22,540.43 355.18,540.14 357.14,539.86 359.10,539.60 361.05,539.34 363.01,539.09 364.97,538.86 366.92,538.64 368.88,538.43 370.84,538.24 372.80,538.06 374.75,537.90 376.71,537.74 378.67,537.61 380.62,537.48 382.58,537.37 384.54,537.27 386.49,537.18 388.45,537.11 390.41,537.05 392.37,537.00 394.32,536.96 396.28,536.92 398.24,536.90 400.19,536.88 402.15,536.88 404.11,536.87 406.07,536.88 408.02,536.88 409.98,536.90 411.94,536.91 413.89,536.93 415.85,536.95 417.81,536.97 419.77,536.99 421.72,537.02 423.68,537.04 425.64,537.06 427.59,537.07 429.55,537.09 431.51,537.10 433.47,537.10 435.42,537.10 437.38,537.10 439.34,537.09 441.29,537.07 443.25,537.05 445.21,537.03 447.17,537.00 449.12,536.97 451.08,536.93 453.04,536.89 454.99,536.85 456.95,536.81 458.91,536.76 460.87,536.72 462.82,536.67 464.78,536.62 466.74,536.57 468.69,536.53 470.65,536.48 472.61,536.43 474.56,536.39 476.52,536.34 478.48,536.30 480.44,536.26 482.39,536.23 484.35,536.19 486.31,536.16 488.26,536.14 490.22,536.11 492.18,536.09 494.14,536.08 496.09,536.06 498.05,536.05 500.01,536.04 501.96,536.03 503.92,536.02 505.88,536.02 507.84,536.01 509.79,536.01 511.75,536.01 513.71,536.01 515.66,536.00 517.62,536.00 519.58,536.00 521.54,536.00 523.49,535.99 525.45,535.99 527.41,535.99 529.36,535.98 531.32,535.97 533.28,535.96 535.24,535.95 537.19,535.93 539.15,535.92 541.11,535.90 543.06,535.88 545.02,535.85 546.98,535.82 548.94,535.79 550.89,535.75 552.85,535.71 554.81,535.66 556.76,535.61 558.72,535.56 560.68,535.50 562.64,535.43 564.59,535.36 566.55,535.29 568.51,535.20 570.46,535.12 572.42,535.02 574.38,534.92 576.33,534.81 578.29,534.69 580.25,534.57 582.21,534.44 584.16,534.30 586.12,534.15 588.08,534.00 590.03,533.83 597.55,533.07 613.83,533.68 621.99,533.68 633.45,532.31 641.62,532.00 648.96,533.07 655.95,531.39" fill="none" stroke="#f22b2b" stroke-width="1.6" stroke-linejoin="round" stroke-linecap="round"/>
<rect x="39.5" y="515.5" width="645.9" height="167.29999999999995" fill="none" stroke="#a8a8a8" stroke-width="1.1"/>
<text transform="translate(362.10,714.70) scale(1,1.0)" font-size="14.9" text-anchor="middle">Steps</text>
<text transform="translate(9.75,599.35) rotate(-90) scale(1,1.0)" font-size="14.7" text-anchor="middle">mAP</text>
<line x1="205.5" x2="223.9" y1="738.5" y2="738.5" stroke="#7f7f7f" stroke-width="1.6"/>
<text transform="translate(234.40,742.60) scale(1,1.0)" font-size="12.3">Faster-RCNN ResNet-101 V2</text>
<line x1="390.2" x2="408.6" y1="738.5" y2="738.5" stroke="#f22b2b" stroke-width="1.6"/>
<text transform="translate(418.30,742.60) scale(1,1.0)" font-size="12.3">RFCN ResNet-101 V2</text>
<text transform="translate(342.20,764.80) scale(1,1.0)" font-size="17.4" text-anchor="middle" style="stroke-width:0.3px">(c) Group 3</text>
<line x1="39.5" x2="685.4" y1="918.04" y2="918.04" stroke="#f6f6f6" stroke-width="0.6"/>
<line x1="39.5" x2="685.4" y1="887.52" y2="887.52" stroke="#f6f6f6" stroke-width="0.6"/>
<line x1="39.5" x2="685.4" y1="857.00" y2="857.00" stroke="#f6f6f6" stroke-width="0.6"/>
<line x1="39.5" x2="685.4" y1="826.48" y2="826.48" stroke="#f6f6f6" stroke-width="0.6"/>
<line x1="39.5" x2="685.4" y1="795.96" y2="795.96" stroke="#f6f6f6" stroke-width="0.6"/>
<line x1="141.90" x2="141.90" y1="773.2" y2="940.5" stroke="#f6f6f6" stroke-width="0.6"/>
<line x1="288.77" x2="288.77" y1="773.2" y2="940.5" stroke="#f6f6f6" stroke-width="0.6"/>
<line x1="435.64" x2="435.64" y1="773.2" y2="940.5" stroke="#f6f6f6" stroke-width="0.6"/>
<line x1="582.51" x2="582.51" y1="773.2" y2="940.5" stroke="#f6f6f6" stroke-width="0.6"/>
<line x1="39.5" x2="685.4" y1="933.30" y2="933.30" stroke="#eeeeee" stroke-width="1"/>
<line x1="35.1" x2="39.5" y1="933.30" y2="933.30" stroke="#b3b3b3" stroke-width="1"/>
<text transform="translate(32.30,937.60) scale(1,1.08)" font-size="12.3" text-anchor="end">0.0</text>
<line x1="39.5" x2="685.4" y1="902.78" y2="902.78" stroke="#eeeeee" stroke-width="1"/>
<line x1="35.1" x2="39.5" y1="902.78" y2="902.78" stroke="#b3b3b3" stroke-width="1"/>
<text transform="translate(32.30,907.08) scale(1,1.08)" font-size="12.3" text-anchor="end">0.2</text>
<line x1="39.5" x2="685.4" y1="872.26" y2="872.26" stroke="#eeeeee" stroke-width="1"/>
<line x1="35.1" x2="39.5" y1="872.26" y2="872.26" stroke="#b3b3b3" stroke-width="1"/>
<text transform="translate(32.30,876.56) scale(1,1.08)" font-size="12.3" text-anchor="end">0.4</text>
<line x1="39.5" x2="685.4" y1="841.74" y2="841.74" stroke="#eeeeee" stroke-width="1"/>
<line x1="35.1" x2="39.5" y1="841.74" y2="841.74" stroke="#b3b3b3" stroke-width="1"/>
<text transform="translate(32.30,846.04) scale(1,1.08)" font-size="12.3" text-anchor="end">0.6</text>
<line x1="39.5" x2="685.4" y1="811.22" y2="811.22" stroke="#eeeeee" stroke-width="1"/>
<line x1="35.1" x2="39.5" y1="811.22" y2="811.22" stroke="#b3b3b3" stroke-width="1"/>
<text transform="translate(32.30,815.52) scale(1,1.08)" font-size="12.3" text-anchor="end">0.8</text>
<line x1="39.5" x2="685.4" y1="780.70" y2="780.70" stroke="#eeeeee" stroke-width="1"/>
<line x1="35.1" x2="39.5" y1="780.70" y2="780.70" stroke="#b3b3b3" stroke-width="1"/>
<text transform="translate(32.30,785.00) scale(1,1.08)" font-size="12.3" text-anchor="end">1.0</text>
<line x1="68.47" x2="68.47" y1="773.2" y2="940.5" stroke="#eeeeee" stroke-width="1"/>
<line x1="68.47" x2="68.47" y1="940.5" y2="944.80" stroke="#b3b3b3" stroke-width="1"/>
<text transform="translate(68.47,956.10) scale(1,1.08)" font-size="12.3" text-anchor="middle">0</text>
<line x1="215.34" x2="215.34" y1="773.2" y2="940.5" stroke="#eeeeee" stroke-width="1"/>
<line x1="215.34" x2="215.34" y1="940.5" y2="944.80" stroke="#b3b3b3" stroke-width="1"/>
<text transform="translate(215.34,956.10) scale(1,1.08)" font-size="12.3" text-anchor="middle">25</text>
<line x1="362.21" x2="362.21" y1="773.2" y2="940.5" stroke="#eeeeee" stroke-width="1"/>
<line x1="362.21" x2="362.21" y1="940.5" y2="944.80" stroke="#b3b3b3" stroke-width="1"/>
<text transform="translate(362.21,956.10) scale(1,1.08)" font-size="12.3" text-anchor="middle">50</text>
<line x1="509.08" x2="509.08" y1="773.2" y2="940.5" stroke="#eeeeee" stroke-width="1"/>
<line x1="509.08" x2="509.08" y1="940.5" y2="944.80" stroke="#b3b3b3" stroke-width="1"/>
<text transform="translate(509.08,956.10) scale(1,1.08)" font-size="12.3" text-anchor="middle">75</text>
<line x1="655.95" x2="655.95" y1="773.2" y2="940.5" stroke="#eeeeee" stroke-width="1"/>
<line x1="655.95" x2="655.95" y1="940.5" y2="944.80" stroke="#b3b3b3" stroke-width="1"/>
<text transform="translate(655.95,956.10) scale(1,1.08)" font-size="12.3" text-anchor="middle">100</text>
<polyline points="68.94,933.15 82.80,933.15 98.31,931.47 100.27,929.93 102.23,928.08 104.18,925.95 106.14,923.58 108.10,921.01 110.05,918.25 112.01,915.34 113.97,912.32 115.92,909.22 117.88,906.06 119.84,902.89 121.79,899.73 123.75,896.61 125.71,893.56 127.66,890.58 129.62,887.68 131.58,884.86 133.53,882.13 135.49,879.50 137.45,876.96 139.40,874.53 141.36,872.22 143.32,870.02 145.27,867.95 147.23,866.01 149.19,864.20 151.14,862.52 153.10,860.94 155.06,859.47 157.01,858.08 158.97,856.76 160.93,855.50 162.88,854.28 164.84,853.10 166.80,851.94 168.75,850.78 170.71,849.61 172.67,848.43 174.62,847.21 176.58,845.95 178.54,844.66 180.49,843.33 182.45,841.99 184.41,840.65 186.36,839.31 188.32,837.98 190.28,836.68 192.23,835.41 194.19,834.18 196.14,833.01 198.10,831.88 200.06,830.81 202.01,829.79 203.97,828.81 205.93,827.87 207.88,826.98 209.84,826.13 211.80,825.32 213.75,824.54 215.71,823.80 217.67,823.09 219.62,822.42 221.58,821.77 223.54,821.15 225.49,820.55 227.45,819.98 229.41,819.43 231.36,818.89 233.32,818.38 235.28,817.88 237.23,817.39 239.19,816.92 241.15,816.45 243.10,815.99 245.06,815.54 247.02,815.10 248.97,814.65 250.93,814.21 252.89,813.76 254.84,813.31 256.80,812.86 258.76,812.40 260.71,811.94 262.67,811.48 264.63,811.02 266.58,810.56 268.54,810.10 270.50,809.64 272.45,809.18 274.41,808.72 276.37,808.27 278.32,807.81 280.28,807.36 282.24,806.91 284.19,806.47 286.15,806.03 288.11,805.59 290.06,805.17 292.02,804.74 293.98,804.32 295.93,803.91 297.89,803.51 299.85,803.12 301.80,802.73 303.76,802.35 305.72,801.98 307.67,801.62 309.63,801.27 311.59,800.94 313.54,800.61 315.50,800.29 317.46,799.99 319.41,799.70 321.37,799.42 323.33,799.16 325.28,798.91 327.24,798.66 329.19,798.43 331.15,798.21 333.11,798.00 335.06,797.80 337.02,797.61 338.98,797.43 340.93,797.25 342.89,797.08 344.85,796.92 346.80,796.77 348.76,796.62 350.72,796.47 352.67,796.33 354.63,796.20 356.59,796.07 358.54,795.94 360.50,795.82 362.46,795.70 364.41,795.57 366.37,795.46 368.33,795.34 370.28,795.22 372.24,795.10 374.20,794.99 376.15,794.87 378.11,794.76 380.07,794.64 382.02,794.53 383.98,794.42 385.94,794.31 387.89,794.20 389.85,794.10 391.81,793.99 393.76,793.89 395.72,793.78 397.68,793.68 399.63,793.58 401.59,793.49 403.55,793.39 405.50,793.30 407.46,793.21 409.42,793.12 411.37,793.03 413.33,792.95 415.29,792.87 417.24,792.79 419.20,792.71 421.16,792.63 423.11,792.56 425.07,792.49 427.03,792.43 428.98,792.36 430.94,792.30 432.90,792.24 434.85,792.19 436.81,792.13 438.77,792.08 440.72,792.03 442.68,791.98 444.64,791.93 446.59,791.88 448.55,791.84 450.51,791.79 452.46,791.75 454.42,791.70 456.38,791.66 458.33,791.62 460.29,791.57 462.24,791.53 464.20,791.49 466.16,791.45 468.11,791.41 470.07,791.36 472.03,791.32 473.98,791.27 475.94,791.23 477.90,791.18 479.85,791.13 481.81,791.09 483.77,791.03 485.72,790.98 487.68,790.93 489.64,790.87 491.59,790.82 493.55,790.76 495.51,790.69 497.46,790.63 499.42,790.56 501.38,790.49 503.33,790.42 505.29,790.35 507.25,790.28 509.20,790.21 511.16,790.14 513.12,790.08 515.07,790.01 517.03,789.94 518.99,789.88 520.94,789.82 522.90,789.77 524.86,789.71 526.81,789.67 528.77,789.62 530.73,789.58 532.68,789.55 534.64,789.53 536.60,789.51 538.55,789.49 540.51,789.49 542.47,789.49 544.42,789.50 546.38,789.52 548.34,789.55 550.29,789.58 552.25,789.63 554.21,789.67 556.16,789.72 558.12,789.77 560.08,789.82 562.03,789.87 563.99,789.93 565.95,789.97 567.90,790.02 569.86,790.06 571.82,790.10 573.77,790.13 575.73,790.15 577.69,790.16 579.64,790.16 581.60,790.16 583.56,790.14 585.51,790.12 587.47,790.09 589.43,790.05 591.38,790.01 593.34,789.96 595.29,789.90 597.25,789.85 599.21,789.79 601.16,789.72 603.12,789.65 605.08,789.59 607.03,789.52 608.99,789.45 610.95,789.38 612.90,789.31 614.86,789.25 616.82,789.18 618.77,789.12 620.73,789.06 622.69,789.01 624.64,788.96 626.60,788.92 628.56,788.89 630.51,788.86 632.47,788.84 634.43,788.82 636.38,788.82 638.34,788.82 640.30,788.84 642.25,788.86 644.21,788.90 646.17,788.95 648.12,789.01 650.08,789.09 652.04,789.18 653.99,789.28 655.95,789.40" fill="none" stroke="#7f7f7f" stroke-width="1.6" stroke-linejoin="round" stroke-linecap="round"/>
<polyline points="68.94,932.84 70.89,933.06 72.85,933.10 74.80,932.97 76.75,932.67 78.71,932.22 80.66,931.60 82.61,930.83 84.57,929.92 86.52,928.85 88.47,927.64 90.43,926.30 92.38,924.82 94.33,923.22 96.29,921.49 98.24,919.66 100.19,917.73 102.15,915.70 104.10,913.59 106.05,911.41 108.01,909.16 109.96,906.86 111.91,904.50 113.87,902.11 115.82,899.68 117.77,897.24 119.73,894.77 121.68,892.31 123.63,889.84 125.59,887.38 127.54,884.94 129.49,882.53 131.45,880.15 133.40,877.82 135.35,875.53 137.31,873.30 139.26,871.14 141.21,869.06 143.17,867.05 145.12,865.12 147.07,863.26 149.03,861.47 150.98,859.76 152.93,858.11 154.89,856.54 156.84,855.03 158.79,853.58 160.75,852.20 162.70,850.89 164.65,849.63 166.61,848.44 168.56,847.30 170.51,846.21 172.47,845.18 174.42,844.19 176.37,843.24 178.33,842.34 180.28,841.47 182.23,840.63 184.19,839.83 186.14,839.05 188.09,838.30 190.05,837.56 192.00,836.85 193.95,836.15 195.91,835.46 197.86,834.78 199.81,834.11 201.77,833.46 203.72,832.81 205.67,832.18 207.63,831.56 209.58,830.96 211.53,830.36 213.49,829.78 215.44,829.21 217.39,828.66 219.35,828.12 221.30,827.60 223.25,827.09 225.21,826.60 227.16,826.12 229.11,825.66 231.07,825.21 233.02,824.78 234.97,824.36 236.93,823.97 238.88,823.58 240.83,823.22 242.79,822.87 244.74,822.54 246.69,822.23 248.65,821.93 250.60,821.66 252.55,821.40 254.51,821.16 256.46,820.93 258.41,820.72 260.37,820.52 262.32,820.33 264.27,820.15 266.23,819.98 268.18,819.80 270.13,819.63 272.09,819.45 274.04,819.27 275.99,819.09 277.95,818.90 279.90,818.70 281.85,818.49 283.81,818.28 285.76,818.06 287.71,817.84 289.67,817.62 291.62,817.39 293.57,817.15 295.53,816.91 297.48,816.67 299.43,816.43 301.39,816.18 303.34,815.93 305.29,815.68 307.25,815.43 309.20,815.19 311.15,814.94 313.11,814.71 315.06,814.48 317.01,814.25 318.96,814.04 320.92,813.84 322.87,813.66 324.82,813.48 326.78,813.32 328.73,813.17 330.68,813.03 332.64,812.91 334.59,812.79 336.54,812.69 338.50,812.60 340.45,812.53 342.40,812.47 344.36,812.42 346.31,812.38 348.26,812.36 350.22,812.35 352.17,812.35 354.12,812.36 356.08,812.39 358.03,812.41 359.98,812.45 361.94,812.48 363.89,812.52 365.84,812.54 367.80,812.57 369.75,812.58 371.70,812.59 373.66,812.58 375.61,812.57 377.56,812.55 379.52,812.53 381.47,812.49 383.42,812.45 385.38,812.41 387.33,812.36 389.28,812.30 391.24,812.23 393.19,812.16 395.14,812.09 397.10,812.00 399.05,811.92 401.00,811.83 402.96,811.74 404.91,811.64 406.86,811.54 408.82,811.43 410.77,811.32 412.72,811.21 414.68,811.10 416.63,810.98 418.58,810.86 420.54,810.74 422.49,810.62 424.44,810.50 426.40,810.37 428.35,810.25 430.30,810.12 432.26,810.00 434.21,809.87 436.16,809.75 438.12,809.62 440.07,809.50 442.02,809.37 443.98,809.25 445.93,809.13 447.88,809.02 449.84,808.90 451.79,808.79 453.74,808.68 455.70,808.57 457.65,808.46 459.60,808.36 461.56,808.26 463.51,808.17 465.46,808.08 467.42,808.00 469.37,807.92 471.32,807.84 473.28,807.77 475.23,807.71 477.18,807.65 479.14,807.60 481.09,807.55 483.04,807.50 485.00,807.46 486.95,807.43 488.90,807.40 490.86,807.37 492.81,807.35 494.76,807.32 496.72,807.31 498.67,807.29 500.62,807.28 502.58,807.27 504.53,807.26 506.48,807.26 508.44,807.26 510.39,807.25 512.34,807.25 514.30,807.26 516.25,807.26 518.20,807.26 520.16,807.27 522.11,807.27 524.06,807.27 526.02,807.28 527.97,807.28 529.92,807.29 531.88,807.29 533.83,807.29 535.78,807.30 537.74,807.30 539.69,807.29 541.64,807.29 543.60,807.29 545.55,807.28 547.50,807.27 549.46,807.26 551.41,807.24 553.36,807.23 555.32,807.21 557.27,807.18 559.22,807.15 561.18,807.12 563.13,807.09 565.08,807.05 567.04,807.01 568.99,806.96 570.94,806.91 572.90,806.86 574.85,806.81 576.80,806.76 578.76,806.70 580.71,806.65 582.66,806.59 584.62,806.53 586.57,806.47 588.52,806.41 590.48,806.36 592.43,806.30 594.38,806.25 596.34,806.19 598.29,806.14 600.24,806.09 602.20,806.04 604.15,806.00 606.10,805.96 608.06,805.92 610.01,805.88 611.96,805.85 613.92,805.83 615.87,805.81 617.82,805.79 619.78,805.78 621.73,805.77 623.68,805.77 625.64,805.78 627.59,805.80 629.54,805.82 631.50,805.84 633.45,805.88 641.62,806.79 648.14,808.02 655.95,807.71" fill="none" stroke="#f22b2b" stroke-width="1.6" stroke-linejoin="round" stroke-linecap="round"/>
<rect x="39.5" y="773.2" width="645.9" height="167.29999999999995" fill="none" stroke="#a8a8a8" stroke-width="1.1"/>
<text transform="translate(362.10,972.40) scale(1,1.0)" font-size="14.9" text-anchor="middle">Steps</text>
<text transform="translate(9.75,857.05) rotate(-90) scale(1,1.0)" font-size="14.7" text-anchor="middle">mAP</text>
<line x1="191.1" x2="209.5" y1="996.2" y2="996.2" stroke="#7f7f7f" stroke-width="1.6"/>
<text transform="translate(220.00,1000.30) scale(1,1.0)" font-size="12.3">Faster-RCNN Inception ResNet V2</text>
<line x1="402.3" x2="420.7" y1="996.2" y2="996.2" stroke="#f22b2b" stroke-width="1.6"/>
<text transform="translate(431.00,1000.30) scale(1,1.0)" font-size="12.3">Faster-RCNN NASNet</text>
<text transform="translate(342.20,1022.50) scale(1,1.0)" font-size="17.4" text-anchor="middle" style="stroke-width:0.3px">(d) Group 4</text>
</svg></body></html>
